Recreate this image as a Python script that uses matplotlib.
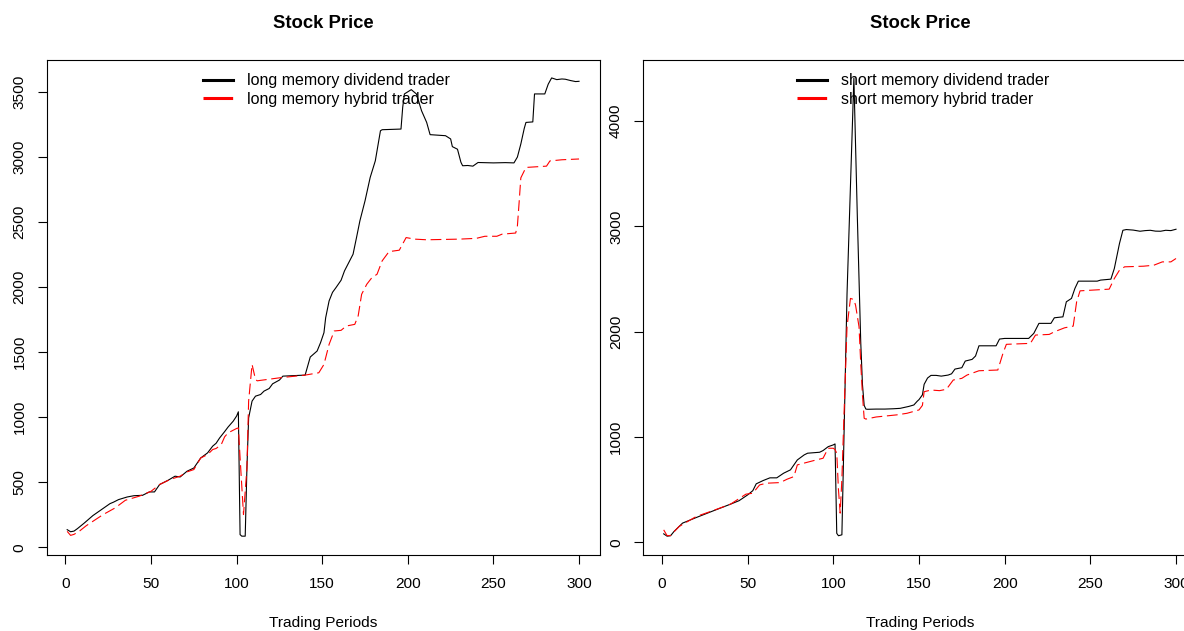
import matplotlib
matplotlib.use("Agg")
import matplotlib.pyplot as plt
from matplotlib.lines import Line2D

# ── data ─────────────────────────────────────────────────────────
long_div_t = [1, 3, 5, 7, 11, 16, 21, 26, 28, 31, 36, 40, 45, 49, 52, 55, 60, 64, 67,
              71, 75, 79, 83, 86, 88, 90, 93, 95, 98, 100, 101, 102, 103, 105, 106,
              107, 109, 111, 114, 116, 119, 121, 125, 127, 140, 143, 147, 149, 151,
              152, 154, 156, 158, 161, 163, 168, 170, 172, 175, 178, 181, 184, 185,
              196, 197, 198, 202, 205, 208, 211, 213, 222, 225, 226, 229, 231, 232,
              235, 238, 241, 250, 257, 262, 264, 266, 268, 269, 273, 274, 280, 282,
              284, 287, 290, 292, 295, 298, 300]
long_div_p = [136, 120, 125, 144, 187, 244, 290, 336, 347, 367, 387, 397, 400, 426, 426,
              483, 516, 547, 541, 585, 610, 687, 726, 778, 800, 840, 890, 925, 970, 1010,
              1042, 98, 86, 86, 610, 995, 1124, 1162, 1175, 1201, 1221, 1257, 1286, 1316,
              1324, 1463, 1509, 1573, 1650, 1765, 1894, 1960, 1996, 2053, 2125, 2253,
              2380, 2510, 2664, 2843, 2971, 3202, 3210, 3215, 3382, 3485, 3518, 3485,
              3356, 3266, 3172, 3164, 3139, 3080, 3060, 2960, 2933, 2935, 2930, 2958,
              2955, 2957, 2955, 3000, 3100, 3220, 3266, 3270, 3485, 3485, 3560, 3608,
              3595, 3600, 3598, 3588, 3580, 3582]

long_hyb_t = [1, 3, 5, 8, 12, 16, 22, 29, 35, 43, 50, 55, 61, 67, 71, 75, 79, 83, 86,
              88, 91, 93, 95, 100, 101, 102, 104, 106, 107, 109, 111, 112, 125, 140,
              148, 151, 154, 157, 161, 164, 169, 171, 173, 176, 179, 182, 185, 189,
              195, 199, 204, 211, 230, 240, 245, 252, 255, 263, 264, 265, 266, 269,
              281, 283, 290, 300]
long_hyb_p = [123, 92, 100, 123, 165, 200, 252, 303, 362, 393, 431, 483, 521, 547, 580,
              598, 687, 713, 752, 760, 790, 850, 880, 914, 918, 690, 252, 610, 1124,
              1406, 1291, 1280, 1303, 1324, 1342, 1406, 1560, 1663, 1668, 1701, 1714,
              1780, 1945, 2022, 2073, 2099, 2202, 2273, 2284, 2381, 2369, 2364, 2369,
              2375, 2391, 2391, 2407, 2416, 2470, 2650, 2840, 2920, 2930, 2970, 2979,
              2985]

short_div_t = [1, 3, 5, 7, 12, 20, 30, 40, 45, 50, 53, 55, 59, 63, 67, 71, 75, 79, 83,
               85, 92, 94, 97, 100, 101, 102, 103, 105, 108, 112, 114, 116, 117, 118,
               119, 120, 125, 130, 135, 139, 144, 147, 149, 150, 152, 153, 155, 157,
               160, 163, 167, 169, 171, 175, 177, 181, 183, 185, 195, 197, 200, 214,
               217, 220, 227, 229, 234, 236, 239, 241, 243, 254, 256, 262, 264, 265,
               267, 269, 271, 275, 279, 282, 285, 288, 291, 294, 297, 300]
short_div_p = [80, 58, 62, 102, 182, 235, 299, 362, 395, 450, 490, 555, 586, 612, 612,
               656, 688, 782, 830, 846, 855, 871, 908, 925, 934, 85, 62, 71, 2360, 4410,
               3100, 1900, 1500, 1300, 1265, 1263, 1265, 1265, 1268, 1272, 1290, 1304,
               1340, 1355, 1400, 1500, 1560, 1585, 1585, 1578, 1588, 1600, 1645, 1658,
               1721, 1737, 1769, 1866, 1866, 1930, 1936, 1936, 1984, 2079, 2079, 2132,
               2141, 2284, 2316, 2411, 2480, 2480, 2490, 2499, 2600, 2679, 2837, 2963,
               2970, 2965, 2954, 2960, 2963, 2955, 2954, 2963, 2960, 2973]

short_hyb_t = [1, 3, 5, 10, 20, 30, 40, 49, 53, 57, 61, 69, 73, 77, 79, 90, 94, 97,
               100, 101, 102, 103, 104, 105, 106, 108, 110, 112, 113, 115, 116, 117,
               118, 119, 125, 131, 137, 143, 150, 152, 153, 157, 162, 166, 170, 175,
               178, 185, 196, 199, 201, 215, 218, 226, 229, 235, 240, 242, 244, 261,
               264, 267, 270, 281, 287, 292, 297, 300]
short_hyb_p = [118, 62, 65, 150, 245, 302, 362, 457, 466, 545, 561, 567, 599, 624, 735,
               782, 798, 893, 893, 880, 846, 500, 277, 600, 1098, 2047, 2316, 2305,
               2250, 2047, 1700, 1400, 1178, 1170, 1190, 1200, 1210, 1225, 1257, 1300,
               1430, 1446, 1440, 1453, 1541, 1557, 1588, 1629, 1636, 1794, 1880, 1889,
               1968, 1974, 1999, 2037, 2053, 2284, 2388, 2404, 2505, 2584, 2616, 2622,
               2631, 2663, 2663, 2695]

panels = [
    (long_div_t, long_div_p, long_hyb_t, long_hyb_p,
     ["long memory dividend trader", "long memory hybrid trader"]),
    (short_div_t, short_div_p, short_hyb_t, short_hyb_p,
     ["short memory dividend trader", "short memory hybrid trader"]),
]

# ── style (R base graphics look) ─────────────────────────────────
plt.rcParams.update({
    "font.family": ["Liberation Sans", "DejaVu Sans"],
    "font.size": 11.1,
})
DASH = (0, (9.7, 4.2))
FS = 11.1
FS_LEG = 11.5

fig = plt.figure(figsize=(11.84, 6.31), dpi=100)
W, H = 1184.0, 631.0
# axes boxes in pixels: (left, right); right panel runs past the figure edge
boxes = [(46.7, 599.5), (643.2, 1196.5)]
top_px, bot_px = 59.6, 554.5

for (lx, rx), (t1, p1, t2, p2, labels) in zip(boxes, panels):
    ax = fig.add_axes([lx / W, 1 - bot_px / H, (rx - lx) / W, (bot_px - top_px) / H])
    ax.plot(t1, p1, color="black", lw=0.8)
    ax.plot(t2, p2, color="red", lw=0.8, linestyle=DASH)

    ax.set_xlim(1 - 0.04 * 299, 300 + 0.04 * 299)
    lo = min(min(p1), min(p2)); hi = max(max(p1), max(p2))
    ax.set_ylim(lo - 0.04 * (hi - lo), hi + 0.04 * (hi - lo))
    ax.set_xticks([0, 50, 100, 150, 200, 250, 300])

    for s in ax.spines.values():
        s.set_linewidth(0.8)
    ax.tick_params(direction="out", length=6.5, width=0.8, labelsize=FS, pad=9.5)
    ax.tick_params(axis="y", labelrotation=90, pad=8.0)
    for lab in ax.get_yticklabels():
        lab.set_va("center")

    ax.text(0.5, 1.0634, "Stock Price", transform=ax.transAxes, ha="center",
            va="baseline", fontsize=13.3, fontweight="bold")
    ax.text(0.5, -0.1461, "Trading Periods", transform=ax.transAxes, ha="center",
            va="baseline", fontsize=FS)

    handles = [Line2D([], [], color="black", lw=2.2),
               Line2D([], [], color="red", lw=2.2, linestyle=DASH)]
    ax.legend(handles, labels, loc="upper center", bbox_to_anchor=(0.506, 1.0),
              frameon=False, fontsize=FS_LEG, handlelength=1.85, handletextpad=0.85,
              labelspacing=0.22, borderaxespad=0.45, borderpad=0.4)

fig.savefig("out.png", dpi=100)
